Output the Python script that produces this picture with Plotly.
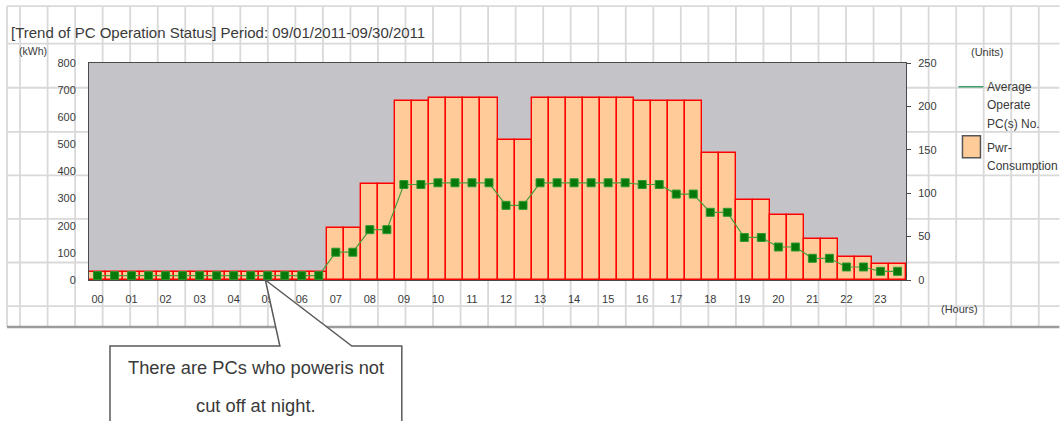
import plotly.graph_objects as go

# ---- data -------------------------------------------------------------
hours = ["00", "01", "02", "03", "04", "05", "06", "07", "08", "09", "10", "11",
         "12", "13", "14", "15", "16", "17", "18", "19", "20", "21", "22", "23"]

# power consumption per half-hour slot (kWh)
pwr_kwh = [30, 30, 30, 30, 30, 30, 30, 30, 30, 30, 30, 30, 30, 30,
           190, 190, 355, 355, 660, 660, 672, 672, 672, 672,
           517, 517, 672, 672, 672, 672, 672, 672, 660, 660,
           660, 660, 468, 468, 295, 295, 240, 240, 151, 151,
           86, 86, 59, 59]

# average number of operating PCs per half-hour slot (units)
pc_units = [5, 5, 5, 5, 5, 5, 5, 5, 5, 5, 5, 5, 5, 5,
            32, 32, 58, 58, 110, 110, 112, 112, 112, 112,
            86, 86, 112, 112, 112, 112, 112, 112, 110, 110,
            99, 99, 78, 78, 49, 49, 38, 38, 25, 25,
            15, 15, 10, 10]

title_text = "[Trend of PC Operation Status] Period: 09/01/2011-09/30/2011"
callout_lines = ["There are PCs who poweris not", "cut off at night."]

# ---- page geometry (pixels) -------------------------------------------
W, H = 1060, 421
L, R, T, B = 89, 906.5, 63.3, 280
PW, PH = R - L, B - T


def px(x):
    return (x - L) / PW


def py(y):
    return (B - y) / PH


FONT = "Liberation Sans, Arial, sans-serif"
TXT = "#3a3a3a"

slots = list(range(len(pwr_kwh)))

fig = go.Figure()
fig.add_trace(go.Bar(
    x=slots, y=pwr_kwh, name="Pwr-Consumption",
    marker=dict(color="#ffcc99", line=dict(color="#ff0000", width=1.4)),
    width=1.0, yaxis="y",
))
fig.add_trace(go.Scatter(
    x=slots, y=pc_units, name="Average Operate PC(s) No.",
    mode="lines+markers", yaxis="y2",
    line=dict(color="#4c9c3c", width=1.2),
    marker=dict(symbol="square", size=8, color="#07780a",
                line=dict(color="#2f9a2f", width=1)),
))

shapes = []
# worksheet cell grid behind the chart
grid_top, grid_bot, grid_left = 6.5, 327, 7
vx = [grid_left] + [20 + 27.55 * k for k in range(38)]
for x in vx:
    shapes.append(dict(type="line", xref="paper", yref="paper", layer="below",
                       x0=px(x), x1=px(x), y0=py(grid_top), y1=py(grid_bot),
                       line=dict(color="#d9d9d9", width=1.8)))
for y in [grid_top, 44, 88, 132, 175.5, 219, 262.5, 306]:
    shapes.append(dict(type="line", xref="paper", yref="paper", layer="below",
                       x0=px(grid_left), x1=px(W), y0=py(y), y1=py(y),
                       line=dict(color="#d9d9d9", width=1.8)))
shapes.append(dict(type="line", xref="paper", yref="paper", layer="below",
                   x0=px(grid_left), x1=px(W), y0=py(grid_bot), y1=py(grid_bot),
                   line=dict(color="#9c9c9c", width=2.5)))
# grey plot area
shapes.append(dict(type="rect", xref="paper", yref="paper", layer="below",
                   x0=0, x1=1, y0=0, y1=1, fillcolor="#c4c3c8",
                   line=dict(width=0)))

# legend symbols
shapes.append(dict(type="line", xref="paper", yref="paper", layer="above",
                   x0=px(959), x1=px(984), y0=py(87), y1=py(87),
                   line=dict(color="#3f9a6a", width=1.5)))
shapes.append(dict(type="rect", xref="paper", yref="paper", layer="above",
                   x0=px(963), x1=px(981), y0=py(136), y1=py(158),
                   fillcolor="#ffcc99", line=dict(color="#555555", width=1.5)))

# callout box with pointer
pts = [(110, 430), (110, 346), (280, 346), (265.5, 280), (352, 346),
       (402, 346), (402, 430)]
path = "M " + " L ".join(f"{px(x):.5f},{py(y):.5f}" for x, y in pts)
shapes.append(dict(type="path", xref="paper", yref="paper", layer="above",
                   path=path, fillcolor="#ffffff",
                   line=dict(color="#5a5a5a", width=1.5)))


def label(text, x, y, size=11, xanchor="center"):
    return dict(text=text, x=px(x), y=py(y), xref="paper", yref="paper",
                xanchor=xanchor, yanchor="middle", showarrow=False,
                font=dict(family=FONT, size=size, color=TXT))


annotations = [
    label(title_text, 9, 33, size=15, xanchor="left"),
    label("(kWh)", 33, 51, size=10.5),
    label("(Units)", 988, 52, size=11),
    label("(Hours)", 960, 309, size=11),
    label("Average", 986, 87, size=12, xanchor="left"),
    label("Operate", 986, 105.5, size=12, xanchor="left"),
    label("PC(s) No.", 986, 124, size=12, xanchor="left"),
    label("Pwr-", 986, 148, size=12, xanchor="left"),
    label("Consumption", 986, 166.5, size=12, xanchor="left"),
    label(callout_lines[0], 256, 367.5, size=18.3),
    label(callout_lines[1], 256, 405, size=18.3),
]

fig.update_layout(
    width=W, height=H,
    margin=dict(l=L, r=W - R, t=T, b=H - B, pad=0),
    paper_bgcolor="#ffffff", plot_bgcolor="rgba(0,0,0,0)",
    showlegend=False, bargap=0,
    font=dict(family=FONT, size=11, color=TXT),
    xaxis=dict(range=[-0.5, len(slots) - 0.5], tickmode="array",
               tickvals=slots[::2], ticktext=hours, showgrid=False,
               zeroline=False, showline=True, mirror=True,
               linecolor="#4a4a4a", linewidth=1, ticks="",
               ticklabelstandoff=9, tickfont=dict(size=11, color=TXT)),
    yaxis=dict(range=[0, 800], dtick=100, showgrid=False, zeroline=False,
               showline=True, linecolor="#4a4a4a", linewidth=1, ticks="",
               ticklabelstandoff=10, tickfont=dict(size=11, color=TXT)),
    yaxis2=dict(range=[0, 250], dtick=50, overlaying="y", side="right",
                showgrid=False, zeroline=False, showline=True,
                linecolor="#4a4a4a", linewidth=1, ticks="outside", ticklen=4,
                tickcolor="#4a4a4a", ticklabelstandoff=5,
                tickfont=dict(size=11, color=TXT)),
    shapes=shapes, annotations=annotations,
)

fig.write_html("out.html")
